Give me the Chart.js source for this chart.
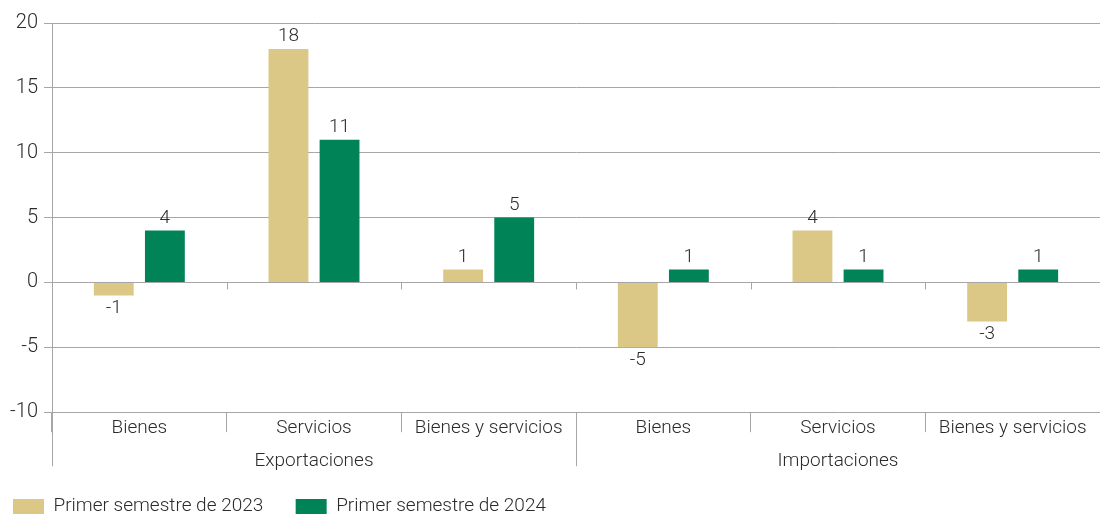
<!DOCTYPE html>
<html>
<head>
<meta charset="utf-8">
<script src="https://cdn.jsdelivr.net/npm/chart.js@4"></script>
<style>
  html, body { margin: 0; padding: 0; background: #fff; }
  #wrap { width: 1100px; height: 515px; }
</style>
</head>
<body>
<div id="wrap"><canvas id="chart"></canvas></div>
<script>
// data
var categories = ["Bienes", "Servicios", "Bienes y servicios", "Bienes", "Servicios", "Bienes y servicios"];
var groups = ["Exportaciones", "Importaciones"];
var groupSizes = [3, 3];
var series2023 = [-1, 18, 1, -5, 4, -3];
var series2024 = [4, 11, 5, 1, 1, 1];
var seriesNames = ["Primer semestre de 2023", "Primer semestre de 2024"];

var FONT = 'Roboto, "DejaVu Sans Condensed", sans-serif';
var GRID = '#a6a6a6';
var TEXT = '#2b2b2b';

// bar value labels + group row
var labelsPlugin = {
  id: 'extras',
  afterDatasetsDraw: function (chart) {
    var ctx = chart.ctx;
    ctx.save();
    ctx.font = '300 19px ' + FONT;
    ctx.fillStyle = TEXT;
    ctx.textAlign = 'center';
    chart.data.datasets.forEach(function (ds, i) {
      chart.getDatasetMeta(i).data.forEach(function (bar, j) {
        var v = ds.data[j];
        if (v >= 0) {
          ctx.textBaseline = 'bottom';
          ctx.fillText(v, bar.x, bar.y - 3);
        } else {
          ctx.textBaseline = 'top';
          ctx.fillText(v, bar.x, bar.y + 3);
        }
      });
    });
    ctx.restore();
  },
  afterDraw: function (chart) {
    var ctx = chart.ctx;
    var x = chart.scales.x, y = chart.scales.y;
    var area = chart.chartArea;
    var zero = y.getPixelForValue(0);
    var half = (x.getPixelForValue(1) - x.getPixelForValue(0)) / 2;
    var bottom = area.bottom + 54;
    ctx.save();
    ctx.strokeStyle = GRID;
    ctx.lineWidth = 1;
    // small ticks on the zero line
    for (var i = 1; i < categories.length; i++) {
      var bx = Math.round(x.getPixelForValue(i) - half) + 0.5;
      ctx.beginPath();
      ctx.moveTo(bx, zero);
      ctx.lineTo(bx, zero + 7);
      ctx.stroke();
    }
    // group separators
    var start = 0;
    ctx.font = '300 19px ' + FONT;
    ctx.fillStyle = TEXT;
    ctx.textAlign = 'center';
    ctx.textBaseline = 'middle';
    ctx.beginPath();
    ctx.moveTo(Math.round(area.left) + 0.5, area.bottom);
    ctx.lineTo(Math.round(area.left) + 0.5, bottom);
    groups.forEach(function (g, k) {
      var end = start + groupSizes[k] - 1;
      var left = x.getPixelForValue(start) - half;
      var right = x.getPixelForValue(end) + half;
      if (k < groups.length - 1) {
        ctx.moveTo(Math.round(right) + 0.5, area.bottom);
        ctx.lineTo(Math.round(right) + 0.5, bottom);
      }
      ctx.fillText(g, (left + right) / 2, area.bottom + 49);
      start = end + 1;
    });
    ctx.stroke();
    ctx.restore();
  }
};

new Chart(document.getElementById('chart'), {
  type: 'bar',
  data: {
    labels: categories,
    datasets: [
      { label: seriesNames[0], data: series2023, backgroundColor: '#dbc886' },
      { label: seriesNames[1], data: series2024, backgroundColor: '#008356' }
    ]
  },
  options: {
    responsive: true,
    maintainAspectRatio: false,
    animation: false,
    categoryPercentage: 0.585,
    barPercentage: 0.78,
    layout: { padding: { top: 23, right: 0, left: 0, bottom: -11 } },
    plugins: {
      tooltip: { enabled: false },
      legend: {
        position: 'bottom',
        align: 'start',
        labels: {
          boxWidth: 31,
          boxHeight: 15,
          padding: 13,
          color: TEXT,
          font: { family: FONT, size: 19, weight: '300' },
          generateLabels: function (chart) {
            var items = Chart.defaults.plugins.legend.labels.generateLabels(chart);
            items.forEach(function (it) { it.text = it.text + '\u2003'; });
            return items;
          }
        }
      }
    },
    scales: {
      x: {
        grid: {
          offset: true,
          drawOnChartArea: false,
          tickLength: 20,
          color: GRID
        },
        border: { display: false },
        ticks: {
          color: TEXT,
          padding: -15,
          font: { family: FONT, size: 19, weight: '300' }
        },
        afterFit: function (s) { s.height += 59; }
      },
      y: {
        min: -10,
        max: 20,
        afterFit: function (s) { s.width = 52; },
        ticks: {
          stepSize: 5,
          color: TEXT,
          padding: 6,
          font: { family: FONT, size: 20, weight: '300' }
        },
        grid: { color: GRID, tickLength: 8 },
        border: { color: GRID }
      }
    }
  },
  plugins: [labelsPlugin]
});
</script>
</body>
</html>
